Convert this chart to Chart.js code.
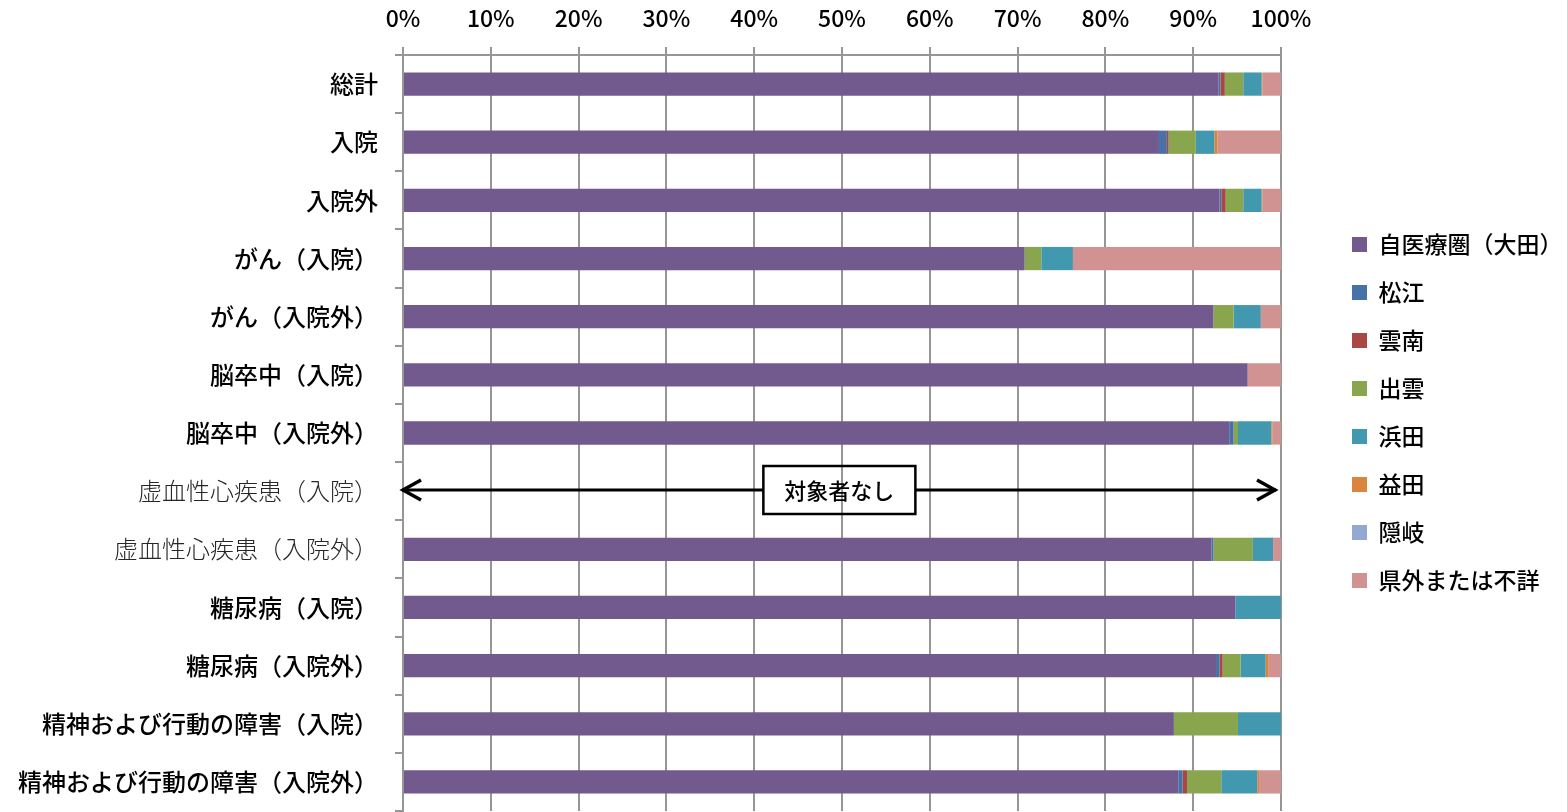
<!DOCTYPE html>
<html><head><meta charset="utf-8">
<script src="https://cdn.jsdelivr.net/npm/chart.js@4.4.1/dist/chart.umd.min.js"></script>
<style>html,body{margin:0;padding:0;background:#fff;}#wrap{width:1567px;height:812px;}</style>
</head><body><div id="wrap"><canvas id="c" width="1567" height="812"></canvas></div>
<script>
const categories = ['総計','入院','入院外','がん（入院）','がん（入院外）','脳卒中（入院）','脳卒中（入院外）','虚血性心疾患（入院）','虚血性心疾患（入院外）','糖尿病（入院）','糖尿病（入院外）','精神および行動の障害（入院）','精神および行動の障害（入院外）'];
const seriesNames = ['自医療圏（大田）','松江','雲南','出雲','浜田','益田','隠岐','県外または不詳'];
const ota     = [92.9, 86.1, 93.0, 70.8, 92.3, 96.2, 94.1, null, 92.1, 94.8, 92.6, 87.8, 88.3];
const matsue  = [0.2, 0.9, 0.2, 0, 0, 0, 0.5, null, 0.2, 0, 0.4, 0, 0.5];
const unnan   = [0.5, 0.2, 0.5, 0, 0, 0, 0, null, 0, 0, 0.35, 0, 0.5];
const izumo   = [2.1, 3.1, 2.0, 1.9, 2.3, 0, 0.5, null, 4.5, 0, 2.05, 7.3, 3.9];
const hamada  = [2.1, 2.1, 2.1, 3.6, 3.1, 0, 3.8, null, 2.3, 5.2, 2.85, 4.9, 4.1];
const masuda  = [0.1, 0.35, 0.1, 0, 0, 0, 0.15, null, 0, 0, 0.35, 0, 0.2];
const oki     = [0, 0, 0, 0, 0, 0, 0, null, 0, 0, 0, 0, 0];
const kengai  = [2.1, 7.25, 2.1, 23.7, 2.3, 3.8, 0.95, null, 0.9, 0, 1.4, 0, 2.5];
const tickLabels = ['0%','10%','20%','30%','40%','50%','60%','70%','80%','90%','100%'];
const noteText = '対象者なし';
const noteRow = 7;
const serifRows = [7, 8];

const colors = ['#725a8f','#4672a8','#aa4643','#89a54e','#4298af','#db843d','#93a9cf','#d19392'];
const seriesValues = [ota, matsue, unnan, izumo, hamada, masuda, oki, kengai];
const FONT = "'Noto Sans CJK JP', 'Noto Sans', sans-serif";

const legendPlacer = {
  id: 'legendPlacer',
  beforeLayout(chart) {
    const lg = chart.legend;
    if (lg && !lg.__patched) {
      const f = lg.fit;
      lg.fit = function () { f.call(this); this.width = 286; };
      lg.__patched = true;
    }
  },
  afterLayout(chart) {
    const lg = chart.legend;
    if (!lg) return;
    lg.left = chart.chartArea.right + 46;
    lg.top += 7; lg.bottom += 7;
  }
};

const notePlugin = {
  id: 'notePlugin',
  afterDatasetsDraw(chart) {
    const {ctx, scales: {x, y}} = chart;
    const yy = Math.round(y.getPixelForValue(noteRow)) - 1;
    const x0 = x.getPixelForValue(0) - 1;
    const x1 = x.getPixelForValue(100) - 5;
    const cx = x.getPixelForValue(49.7);
    const bw = 152, bh = 48;
    const bl = cx - bw / 2, br = cx + bw / 2;
    ctx.save();
    ctx.strokeStyle = '#000';
    ctx.lineWidth = 3;
    ctx.beginPath();
    ctx.moveTo(x0, yy); ctx.lineTo(bl, yy);
    ctx.moveTo(br, yy); ctx.lineTo(x1, yy);
    ctx.stroke();
    ctx.lineWidth = 3.5;
    ctx.beginPath();
    ctx.moveTo(x0 + 19, yy - 10); ctx.lineTo(x0 + 1, yy); ctx.lineTo(x0 + 19, yy + 10);
    ctx.moveTo(x1 - 19, yy - 10); ctx.lineTo(x1 - 1, yy); ctx.lineTo(x1 - 19, yy + 10);
    ctx.stroke();
    ctx.lineWidth = 2.5;
    ctx.strokeRect(bl, yy - bh / 2, bw, bh);
    ctx.fillStyle = '#000';
    ctx.font = '500 22px ' + FONT;
    ctx.textAlign = 'center';
    ctx.textBaseline = 'middle';
    ctx.fillText(noteText, cx, yy + 1);
    ctx.restore();
  }
};

new Chart(document.getElementById('c'), {
  type: 'bar',
  data: {
    labels: categories,
    datasets: seriesNames.map((n, i) => ({
      label: n,
      data: seriesValues[i],
      backgroundColor: colors[i],
      borderWidth: 0,
      barPercentage: 0.4,
      categoryPercentage: 1.0
    }))
  },
  options: {
    indexAxis: 'y',
    responsive: false,
    animation: false,
    devicePixelRatio: 1,
    layout: {padding: {left: 0, right: 0, top: 0, bottom: 1}},
    plugins: {
      legend: {
        display: true,
        position: 'right',
        labels: {
          boxWidth: 15, boxHeight: 15, padding: 25, color: '#000',
          font: {family: FONT, size: 23, weight: '500'}
        }
      },
      tooltip: {enabled: false}
    },
    scales: {
      x: {
        position: 'top', min: 0, max: 100, stacked: true,
        ticks: {stepSize: 10, padding: 15, color: '#000', font: {family: FONT, size: 23, weight: '500'},
          callback: (v, i) => tickLabels[i]},
        grid: {color: '#969696', lineWidth: 2, tickLength: 8, drawTicks: true},
        border: {display: true, color: '#969696', width: 2},
        afterFit: s => { s.height = 55; }
      },
      y: {
        stacked: true,
        ticks: {
          padding: 17,
          color: ctx => serifRows.includes(ctx.index) ? '#262626' : '#000',
          font: ctx => ({family: FONT, size: 24, weight: serifRows.includes(ctx.index) ? '300' : '500'})
        },
        grid: {display: true, drawOnChartArea: false, color: '#969696', lineWidth: 2, tickLength: 8, offset: true},
        border: {display: true, color: '#969696', width: 2},
        afterFit: s => { s.width = 403; s.paddingTop = 0; s.paddingBottom = 0; }
      }
    }
  },
  plugins: [legendPlacer, notePlugin]
});
</script>
</body></html>
